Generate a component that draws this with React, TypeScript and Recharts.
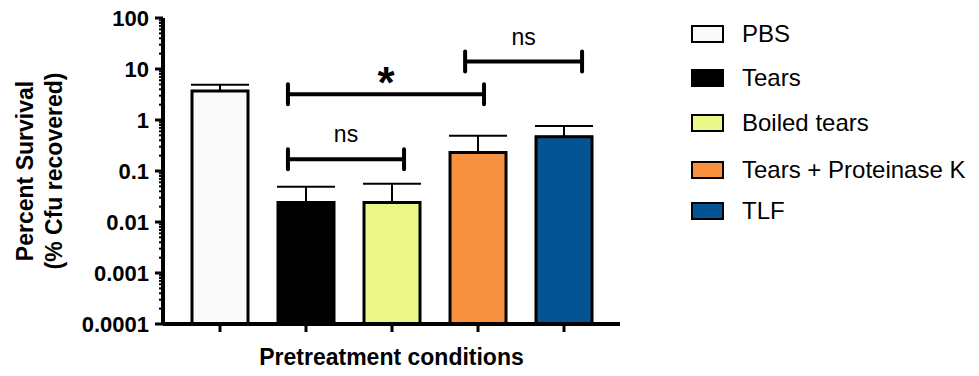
import React from "react";
import {
  Bar,
  BarChart,
  Cell,
  ErrorBar,
  Label,
  Legend,
  ReferenceLine,
  XAxis,
  YAxis,
} from "recharts";

// survival data (mean + upper SD)
const categories = ["PBS", "Tears", "Boiled tears", "Tears + Proteinase K", "TLF"];
const positions = [1, 2, 3, 4, 5];
const means = [3.7, 0.024, 0.024, 0.23, 0.47];
const errUp = [1.2, 0.025, 0.032, 0.26, 0.29];
const colors = ["#fafafa", "#000000", "#ebf786", "#f7913f", "#045392"];

const yMajorTicks = [0.0001, 0.001, 0.01, 0.1, 1, 10, 100];
const yTickLabels = ["0.0001", "0.001", "0.01", "0.1", "1", "10", "100"];

// significance brackets (x in category units, y in % survival)
const brackets = [
  { from: 1.79, to: 3.14, y: 0.17, text: "ns" },
  { from: 1.79, to: 4.07, y: 3.2, text: "*" },
  { from: 3.85, to: 5.21, y: 14, text: "ns" },
];

const FONT = "'Liberation Sans', Arial, sans-serif";
// legend rows are not evenly spaced in the original
const legendRowHeights = [44, 44, 46, 47, 36];

const rows = categories.map((name, i) => ({
  name,
  x: positions[i],
  mean: means[i],
  err: [0, errUp[i]],
}));

const minorTicks: number[] = [];
yMajorTicks.slice(0, -1).forEach((m) => {
  for (let k = 2; k < 10; k++) minorTicks.push(m * k);
});
const allYTicks = [...yMajorTicks, ...minorTicks].sort((a, b) => a - b);

function YTick(props: any) {
  const { x, y, payload } = props;
  const idx = yMajorTicks.indexOf(payload.value);
  const major = idx >= 0;
  return (
    <g>
      <line
        x1={x - (major ? 8 : 4)}
        x2={x}
        y1={y}
        y2={y}
        stroke="#000"
        strokeWidth={major ? 3 : 2}
      />
      {major && (
        <text
          x={x - 14}
          y={y + 8}
          textAnchor="end"
          fontFamily={FONT}
          fontWeight="bold"
          fontSize={22}
          fill="#000"
        >
          {yTickLabels[idx]}
        </text>
      )}
    </g>
  );
}

function YTitle(props: any) {
  const vb = props.viewBox || { x: 0, y: 18, height: 306 };
  const cy = vb.y + vb.height / 2;
  return (
    <g transform={`translate(0, ${cy}) rotate(-90)`}>
      <text x={0} y={33} textAnchor="middle" fontFamily={FONT} fontWeight="bold" fontSize={23} fill="#000">
        Percent Survival
      </text>
      <text x={0} y={62} textAnchor="middle" fontFamily={FONT} fontWeight="bold" fontSize={23} fill="#000">
        (% Cfu recovered)
      </text>
    </g>
  );
}

function bracketShape(text: string) {
  return (p: any) => {
    const { x1, x2, y1 } = p;
    const star = text === "*";
    return (
      <g>
        <path
          d={`M${x1},${y1 - 10}L${x1},${y1 + 10}M${x1},${y1}L${x2},${y1}M${x2},${y1 - 10}L${x2},${y1 + 10}`}
          stroke="#000"
          strokeWidth={4}
          strokeLinecap="round"
          fill="none"
        />
        <text
          x={(x1 + x2) / 2}
          y={star ? y1 + 4 : y1 - 17}
          textAnchor="middle"
          fontFamily={FONT}
          fontWeight={star ? "bold" : "normal"}
          fontSize={star ? 44 : 23}
          fill="#000"
        >
          {text}
        </text>
      </g>
    );
  };
}

function LegendBox() {
  return (
    <div style={{ fontFamily: FONT, fontSize: 24, color: "#000" }}>
      {categories.map((c, i) => (
        <div key={c} style={{ display: "flex", alignItems: "center", height: legendRowHeights[i] }}>
          <div
            style={{
              width: 29,
              height: 14,
              background: colors[i],
              border: "2.5px solid #000",
              marginRight: 18,
            }}
          />
          <span style={{ whiteSpace: "nowrap" }}>{c}</span>
        </div>
      ))}
    </div>
  );
}

export default function App() {
  return (
    <div style={{ position: "absolute", left: 0, top: 0, background: "#fff" }}>
      <BarChart
        width={979}
        height={376}
        data={rows}
        margin={{ top: 18, right: 359, bottom: 0, left: 0 }}
      >
        <XAxis
          dataKey="x"
          type="number"
          domain={[0.3372, 5.651]}
          ticks={positions}
          allowDataOverflow
          tickFormatter={() => ""}
          height={52}
          tickSize={8}
          tickLine={{ stroke: "#000", strokeWidth: 3 }}
          axisLine={{ stroke: "#000", strokeWidth: 4 }}
        >
          <Label
            value="Pretreatment conditions"
            position="insideBottom"
            offset={11}
            fontFamily={FONT}
            fontWeight="bold"
            fontSize={23}
            fill="#000"
          />
        </XAxis>
        <YAxis
          scale="log"
          domain={[0.0001, 100]}
          allowDataOverflow
          ticks={allYTicks}
          interval={0}
          width={163}
          tickSize={0}
          tickMargin={0}
          tickLine={false}
          tick={<YTick />}
          axisLine={{ stroke: "#000", strokeWidth: 4 }}
          label={{ content: <YTitle /> }}
        />
        <Legend
          layout="horizontal"
          align="center"
          verticalAlign="middle"
          content={<LegendBox />}
          wrapperStyle={{ left: 691, top: 12, width: 288 }}
        />
        <Bar
          dataKey="mean"
          barSize={56}
          stroke="#000"
          strokeWidth={3}
          isAnimationActive={false}
        >
          {rows.map((r, i) => (
            <Cell key={r.name} fill={colors[i]} />
          ))}
          <ErrorBar dataKey="err" direction="y" width={29} stroke="#000" strokeWidth={2} />
        </Bar>
        {brackets.map((b, i) => (
          <ReferenceLine
            key={i}
            segment={[
              { x: b.from, y: b.y },
              { x: b.to, y: b.y },
            ]}
            shape={bracketShape(b.text)}
          />
        ))}
      </BarChart>
    </div>
  );
}
